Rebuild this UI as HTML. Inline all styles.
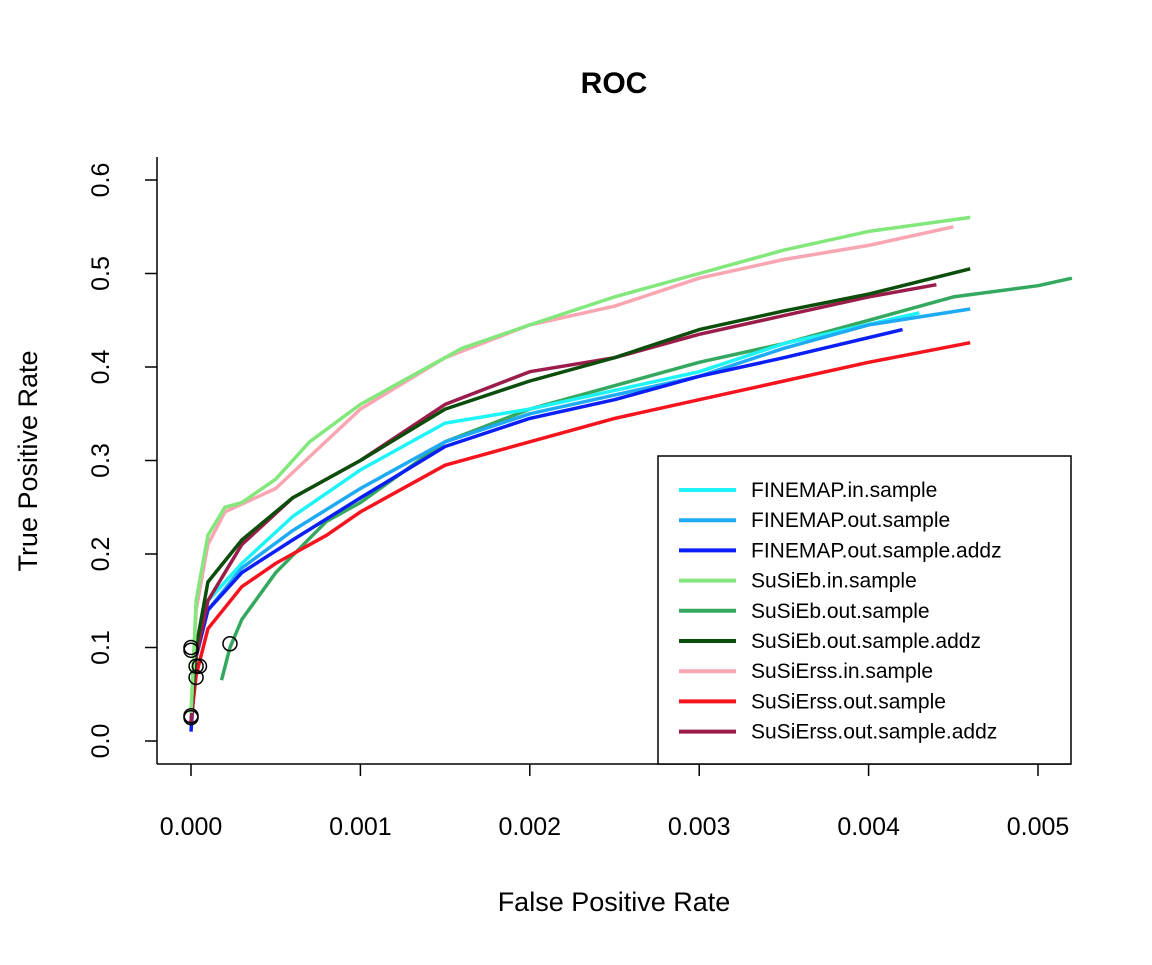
<!DOCTYPE html>
<html><head><meta charset="utf-8"><style>
body{margin:0;background:#fff}
svg text{font-family:"Liberation Sans",Arial,sans-serif;fill:#000}
</style></head><body>
<svg id="chart" width="1152" height="960" xmlns="http://www.w3.org/2000/svg">
<rect width="1152" height="960" fill="#fff"/>
<text x="614" y="93" font-size="30" font-weight="bold" text-anchor="middle">ROC</text>
<text x="614" y="911" font-size="27" text-anchor="middle">False Positive Rate</text>
<text transform="translate(37,461) rotate(-90)" font-size="27" text-anchor="middle">True Positive Rate</text>
<g id="axes"></g><g id="lines"></g><g id="points"></g>
<g id="legend"></g>
</svg>
<script>
const xTicks=[0,0.001,0.002,0.003,0.004,0.005];
const xTickLabels=["0.000","0.001","0.002","0.003","0.004","0.005"];
const yTicks=[0,0.1,0.2,0.3,0.4,0.5,0.6];
const yTickLabels=["0.0","0.1","0.2","0.3","0.4","0.5","0.6"];
const seriesNames=["FINEMAP.in.sample","FINEMAP.out.sample","FINEMAP.out.sample.addz","SuSiEb.in.sample","SuSiEb.out.sample","SuSiEb.out.sample.addz","SuSiErss.in.sample","SuSiErss.out.sample","SuSiErss.out.sample.addz"];
const seriesColors=["#1ef4f8","#1eaaf5","#0a1ef5","#82e87c","#35a860","#0b4d0b","#f9a5b2","#f5141e","#9b1c4a"];
const fpr1=[0,0.00003,0.0001,0.0003,0.0006,0.001,0.0015,0.002,0.0025,0.003,0.0035,0.0043];
const tpr1=[0.02,0.09,0.15,0.19,0.24,0.29,0.34,0.355,0.375,0.395,0.425,0.458];
const fpr2=[0,0.00003,0.0001,0.0003,0.0006,0.001,0.0015,0.002,0.0025,0.003,0.0035,0.004,0.0046];
const tpr2=[0.02,0.09,0.14,0.185,0.225,0.27,0.32,0.35,0.37,0.39,0.42,0.445,0.462];
const fpr3=[0,0.00003,0.0001,0.0003,0.0006,0.001,0.0015,0.002,0.0025,0.003,0.0035,0.0042];
const tpr3=[0.01,0.09,0.14,0.18,0.215,0.26,0.315,0.345,0.365,0.39,0.41,0.44];
const fpr4=[0,0.00003,0.0001,0.0002,0.0003,0.0005,0.0007,0.001,0.0013,0.0016,0.002,0.0025,0.003,0.0035,0.004,0.0046];
const tpr4=[0.03,0.15,0.22,0.25,0.255,0.28,0.32,0.36,0.39,0.42,0.445,0.475,0.5,0.525,0.545,0.56];
const fpr5=[0.00018,0.00023,0.0003,0.0005,0.0008,0.001,0.0015,0.002,0.0025,0.003,0.0035,0.004,0.0045,0.005,0.0052];
const tpr5=[0.065,0.1,0.13,0.18,0.235,0.255,0.32,0.355,0.38,0.405,0.425,0.45,0.475,0.487,0.495];
const fpr6=[0,0.00003,0.0001,0.0003,0.0006,0.001,0.0015,0.002,0.0025,0.003,0.0035,0.004,0.0046];
const tpr6=[0.03,0.1,0.17,0.215,0.26,0.3,0.355,0.385,0.41,0.44,0.46,0.478,0.505];
const fpr7=[0,0.00003,0.0001,0.0002,0.0005,0.001,0.0015,0.002,0.0025,0.003,0.0035,0.004,0.0045];
const tpr7=[0.03,0.14,0.21,0.245,0.27,0.355,0.41,0.445,0.465,0.495,0.515,0.53,0.55];
const fpr8=[0,0.00003,0.0001,0.0003,0.0005,0.0008,0.001,0.0015,0.002,0.0025,0.003,0.0035,0.004,0.0046];
const tpr8=[0.02,0.07,0.12,0.165,0.19,0.22,0.245,0.295,0.32,0.345,0.365,0.385,0.405,0.426];
const fpr9=[0,0.00003,0.0001,0.0003,0.0006,0.001,0.0015,0.002,0.0025,0.003,0.0035,0.004,0.0044];
const tpr9=[0.02,0.09,0.15,0.21,0.26,0.3,0.36,0.395,0.41,0.435,0.455,0.475,0.488];
const pointFpr=[0,0,0.00003,0.00005,0.00003,0,0,0.00023];
const pointTpr=[0.1,0.097,0.08,0.08,0.068,0.027,0.025,0.104];
const X=v=>191+v*169400;
const Y=v=>741-v*935;
const NS="http://www.w3.org/2000/svg";
function mk(tag,attrs,parent){const e=document.createElementNS(NS,tag);for(const k in attrs)e.setAttribute(k,attrs[k]);parent.appendChild(e);return e;}
const axes=document.getElementById('axes');
let a=mk('line',{x1:157,y1:764,x2:157,y2:157,stroke:'#000','stroke-width':1.5},axes);


a=mk('line',{x1:157,y1:764,x2:1071,y2:764,stroke:'#000','stroke-width':1.5},axes);


xTicks.forEach((t,i)=>{const x=X(t);
 const l=mk('line',{x1:x,y1:764,x2:x,y2:776,stroke:'#000','stroke-width':1.5},axes);
 
 
 const tx=mk('text',{x:x,y:835,'font-size':25,'text-anchor':'middle'},axes);tx.textContent=xTickLabels[i];
 
 });
yTicks.forEach((t,i)=>{const y=Y(t);
 const l=mk('line',{x1:145,y1:y,x2:157,y2:y,stroke:'#000','stroke-width':1.5},axes);
 
 
 const tx=mk('text',{transform:`translate(109,${y}) rotate(-90)`,'font-size':25,'text-anchor':'middle'},axes);tx.textContent=yTickLabels[i];
 
 });
const fprs=[fpr1,fpr2,fpr3,fpr4,fpr5,fpr6,fpr7,fpr8,fpr9];
const tprs=[tpr1,tpr2,tpr3,tpr4,tpr5,tpr6,tpr7,tpr8,tpr9];
const lines=document.getElementById('lines');
const order=[4,0,1,2,7,8,5,6,3];
order.forEach(i=>{const d=fprs[i].map((f,j)=>(j?'L':'M')+X(f).toFixed(1)+','+Y(tprs[i][j]).toFixed(1)).join('');
 const p=mk('path',{d:d,fill:'none',stroke:seriesColors[i],'stroke-width':3.5,'stroke-linejoin':'round'},lines);
 
 });
const pts=document.getElementById('points');
pointFpr.forEach((f,i)=>{const c=mk('circle',{cx:X(f),cy:Y(pointTpr[i]),r:7,fill:'none',stroke:'#000','stroke-width':1.5},pts);
 
 });
const lg=document.getElementById('legend');
const box=mk('rect',{x:658,y:456,width:413,height:308,fill:'#fff',stroke:'#000','stroke-width':1.5},lg);


seriesNames.forEach((n,i)=>{const y=490+i*30.2;
 const g=mk('g',{},lg);
 
 
 mk('line',{x1:679,y1:y,x2:736,y2:y,stroke:seriesColors[i],'stroke-width':4},g);
 const t=mk('text',{x:751,y:y+7,'font-size':21},g);t.textContent=n;});
</script>
</body></html>
